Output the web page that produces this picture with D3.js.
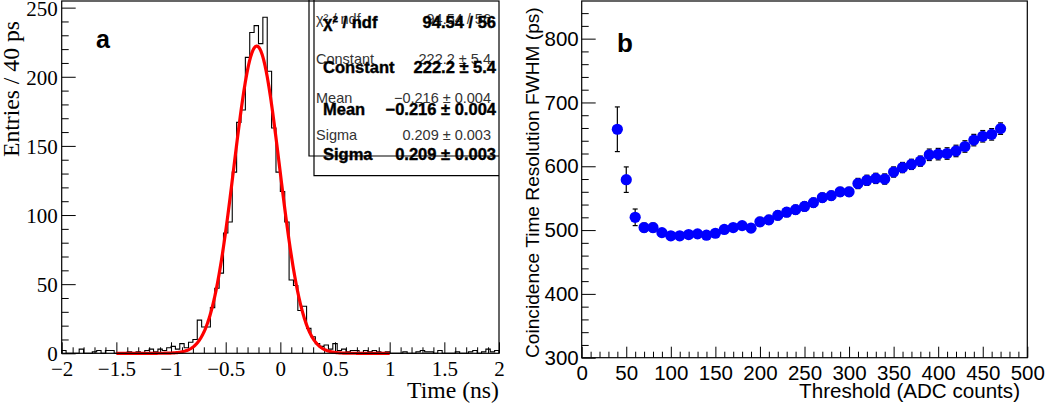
<!DOCTYPE html>
<html><head><meta charset="utf-8">
<script src="https://cdn.jsdelivr.net/npm/d3@7"></script>
<style>
html,body{margin:0;padding:0;background:#fff;}
svg{display:block;}
</style></head>
<body>
<svg id="c" width="1050" height="404"></svg>
<script>
// ---------------- DATA ----------------
// Panel a: histogram, 100 bins of 40 ps from -2 to 2 ns
const histStart = -2;
const histBinWidth = 0.04;
const histCounts = [
  2,0,0,0,3,0,0,1,2,0,
  2,2,0,0,0,1,0,1,0,2,
  3,1,3,2,4,5,3,7,4,8,
  10,24,19,19,33,47,58,87,95,131,
  167,176,214,232,237,224,243,204,163,131,
  117,95,53,49,31,34,18,12,7,5,
  6,3,7,2,3,1,2,2,0,2,
  1,2,1,0,1,0,0,0,1,0,
  0,1,2,1,1,0,2,0,0,0,
  1,0,0,1,2,0,1,3,1,2
];
const fitParams = {constant: 222.2, mean: -0.216, sigma: 0.209, from: -1.5, to: 1.0};
const xTicksA = [-2,-1.5,-1,-0.5,0,0.5,1,1.5,2];
const yTicksA = [0,50,100,150,200,250];
const statNames = ["χ² / ndf", "Constant", "Mean", "Sigma"];
const statValues = ["94.54 / 56", "222.2 ± 5.4", "−0.216 ± 0.004", "0.209 ± 0.003"];

// Panel b: coincidence time resolution vs threshold
const thresholds = [40,50,60,70,80,90,100,110,120,130,140,150,160,170,180,190,200,210,220,230,240,250,260,270,280,290,300,310,320,330,340,350,360,370,380,390,400,410,420,430,440,450,460,470];
const fwhm = [658,579,520,504,504,496,491,491,493,494,492,495,501,504,507,503,513,516,523,528,532,537,543,551,554,560,560,573,578,581,580,591,598,603,608,618,619,620,624,631,641,647,650,659];
const fwhmErr = [35,20,13,7,7,6,6,6,6,6,6,6,6,6,6,6,7,7,7,7,7,7,7,7,7,7,7,8,8,8,8,8,8,8,8,9,9,9,9,9,9,9,9,9];
const xTicksB = [0,50,100,150,200,250,300,350,400,450,500];
const yTicksB = [300,400,500,600,700,800];

// ---------------- DRAW ----------------
const svg = d3.select("#c");
const serif = "'Liberation Serif','Times New Roman',serif";
const sans = "'Liberation Sans',Arial,Helvetica,sans-serif";

function fitWidth(sel, target){
  const n = sel.node();
  const fs = parseFloat(sel.attr("font-size"));
  const len = n.getComputedTextLength();
  if(len>0) sel.attr("font-size", (fs*target/len).toFixed(2));
}
const minusFmt = d => (d<0 ? "−"+Math.abs(d) : String(d));

// ===== Panel a =====
const xA = d3.scaleLinear().domain([-2,2]).range([61.7,499]);
const yA = d3.scaleLinear().domain([0,254.8]).range([353.3,1]);
const gA = svg.append("g");

const minorXA = d3.range(-20,21).map(i=>i/10).filter(v=>!xTicksA.some(t=>Math.abs(t-v)<1e-9));
const minorYA = d3.range(0,251,10).filter(v=>!yTicksA.includes(v));
gA.append("g").attr("transform",`translate(0,${yA(0)})`)
  .call(d3.axisBottom(xA).tickValues(minorXA).tickSize(-6).tickFormat(""))
  .call(g=>g.select(".domain").remove());
gA.append("g").attr("transform",`translate(0,${yA(0)})`)
  .call(d3.axisBottom(xA).tickValues(xTicksA).tickSize(-11).tickPadding(6).tickFormat(minusFmt))
  .call(g=>g.select(".domain").remove())
  .call(g=>g.selectAll("text").attr("font-family",serif).attr("font-size",21).attr("fill","#000").attr("dy","0.95em").attr("y",3));
gA.append("g").attr("transform",`translate(${xA(-2)},0)`)
  .call(d3.axisLeft(yA).tickValues(minorYA).tickSize(-7).tickFormat(""))
  .call(g=>g.select(".domain").remove());
gA.append("g").attr("transform",`translate(${xA(-2)},0)`)
  .call(d3.axisLeft(yA).tickValues(yTicksA).tickSize(-14).tickPadding(4).tickFormat(d=>d))
  .call(g=>g.select(".domain").remove())
  .call(g=>g.selectAll("text").attr("font-family",serif).attr("font-size",21).attr("fill","#000").attr("dy","0.36em"));
gA.selectAll(".tick line").attr("stroke","#000").attr("stroke-width",1);

// histogram outline
const histPts = [{x:histStart,y:0}];
histCounts.forEach((c,i)=>histPts.push({x:histStart+i*histBinWidth,y:c}));
const histEnd = histStart+histCounts.length*histBinWidth;
histPts.push({x:histEnd,y:histCounts[histCounts.length-1]});
histPts.push({x:histEnd,y:0});
gA.append("path").datum(histPts)
  .attr("d",d3.line().x(d=>xA(d.x)).y(d=>yA(d.y)).curve(d3.curveStepAfter))
  .attr("fill","none").attr("stroke","#000").attr("stroke-width",1.1);

// fit curve
const fitPts = d3.range(fitParams.from, fitParams.to+1e-9, 0.005).map(t=>({
  x:t, y: fitParams.constant*Math.exp(-0.5*Math.pow((t-fitParams.mean)/fitParams.sigma,2))
}));
gA.append("path").datum(fitPts)
  .attr("d",d3.line().x(d=>xA(d.x)).y(d=>yA(d.y)))
  .attr("fill","none").attr("stroke","#ff0000").attr("stroke-width",3.2).attr("stroke-linejoin","round");

// frame
gA.append("rect").attr("x",xA(-2)).attr("y",yA(254.8)).attr("width",xA(2)-xA(-2)).attr("height",yA(0)-yA(254.8))
  .attr("fill","none").attr("stroke","#000").attr("stroke-width",1.2);

// stats boxes (two superimposed ROOT stat panels)
const sb = gA.append("g");
sb.append("path").attr("d","M309,0V156H499").attr("fill","none").attr("stroke","#000").attr("stroke-width",1.2);
sb.append("path").attr("d","M314,0V175.7H499").attr("fill","none").attr("stroke","#000").attr("stroke-width",1.2);
// layer 1 (regular)
const l1y = [24,64,103,140];
statNames.forEach((n,i)=>{
  sb.append("text").attr("x",316).attr("y",l1y[i]).attr("font-family",sans).attr("font-size",14.5).attr("fill","#333").text(n);
  sb.append("text").attr("x",491).attr("y",l1y[i]).attr("text-anchor","end").attr("font-family",sans).attr("font-size",14.5).attr("fill","#333").text(statValues[i]);
});
// layer 2 (bold)
const l2y = [28,73,115,160];
statNames.forEach((n,i)=>{
  sb.append("text").attr("x",323).attr("y",l2y[i]).attr("font-family",sans).attr("font-weight","bold").attr("font-size",16.5)
    .attr("fill","#000").attr("stroke","#000").attr("stroke-width",0.4).text(n);
  sb.append("text").attr("x",496).attr("y",l2y[i]).attr("text-anchor","end").attr("font-family",sans).attr("font-weight","bold").attr("font-size",16.5)
    .attr("fill","#000").attr("stroke","#000").attr("stroke-width",0.4).text(statValues[i]);
});

// titles
const tA = gA.append("text").attr("x",499).attr("y",398).attr("text-anchor","end").attr("font-family",serif).attr("font-size",22).text("Time (ns)");
fitWidth(tA,92);
const yTA = gA.append("text").attr("transform","translate(18.5,157) rotate(-90)").attr("font-family",serif).attr("font-size",22).text("Entries / 40 ps");
fitWidth(yTA,136);
gA.append("text").attr("x",96).attr("y",48).attr("font-family",sans).attr("font-weight","bold").attr("font-size",25).text("a");

// ===== Panel b =====
const xB = d3.scaleLinear().domain([0,500]).range([581.7,1027.3]);
const yB = d3.scaleLinear().domain([300,859]).range([357.7,1]);
const gB = svg.append("g");
const minorXB = d3.range(0,501,10).filter(v=>!xTicksB.includes(v));
const minorYB = d3.range(300,860,20).filter(v=>!yTicksB.includes(v));
gB.append("g").attr("transform",`translate(0,${yB(300)})`)
  .call(d3.axisBottom(xB).tickValues(minorXB).tickSize(-6).tickFormat(""))
  .call(g=>g.select(".domain").remove());
gB.append("g").attr("transform",`translate(0,${yB(300)})`)
  .call(d3.axisBottom(xB).tickValues(xTicksB).tickSize(-11).tickPadding(4).tickFormat(d=>d))
  .call(g=>g.select(".domain").remove())
  .call(g=>g.selectAll("text").attr("font-family",sans).attr("font-size",20.5).attr("fill","#000").attr("dy","0.95em").attr("y",3));
gB.append("g").attr("transform",`translate(${xB(0)},0)`)
  .call(d3.axisLeft(yB).tickValues(minorYB).tickSize(-7).tickFormat(""))
  .call(g=>g.select(".domain").remove());
gB.append("g").attr("transform",`translate(${xB(0)},0)`)
  .call(d3.axisLeft(yB).tickValues(yTicksB).tickSize(-14).tickPadding(3).tickFormat(d=>d))
  .call(g=>g.select(".domain").remove())
  .call(g=>g.selectAll("text").attr("font-family",sans).attr("font-size",20.5).attr("fill","#000"));
gB.selectAll(".tick line").attr("stroke","#000").attr("stroke-width",1);

// error bars
const pts = thresholds.map((t,i)=>({x:t,y:fwhm[i],e:fwhmErr[i]}));
const eb = gB.append("g").attr("stroke","#000").attr("stroke-width",1.2);
eb.selectAll("line.v").data(pts).join("line").attr("class","v")
  .attr("x1",d=>xB(d.x)).attr("x2",d=>xB(d.x)).attr("y1",d=>yB(d.y-d.e)).attr("y2",d=>yB(d.y+d.e));
eb.selectAll("line.t").data(pts).join("line").attr("class","t")
  .attr("x1",d=>xB(d.x)-2.5).attr("x2",d=>xB(d.x)+2.5).attr("y1",d=>yB(d.y+d.e)).attr("y2",d=>yB(d.y+d.e));
eb.selectAll("line.b").data(pts).join("line").attr("class","b")
  .attr("x1",d=>xB(d.x)-2.5).attr("x2",d=>xB(d.x)+2.5).attr("y1",d=>yB(d.y-d.e)).attr("y2",d=>yB(d.y-d.e));
gB.append("g").selectAll("circle").data(pts).join("circle")
  .attr("cx",d=>xB(d.x)).attr("cy",d=>yB(d.y)).attr("r",5.6).attr("fill","#0000ff");

gB.append("rect").attr("x",xB(0)).attr("y",yB(859)).attr("width",xB(500)-xB(0)).attr("height",yB(300)-yB(859))
  .attr("fill","none").attr("stroke","#000").attr("stroke-width",1.2);

const tB = gB.append("text").attr("x",1020).attr("y",398).attr("text-anchor","end").attr("font-family",sans).attr("font-size",20).text("Threshold (ADC counts)");
fitWidth(tB,221);
const yTB = gB.append("text").attr("transform","translate(539,358) rotate(-90)").attr("font-family",sans).attr("font-size",18.5).text("Coincidence Time Resolution FWHM (ps)");
fitWidth(yTB,351);
gB.append("text").attr("x",617).attr("y",52).attr("font-family",sans).attr("font-weight","bold").attr("font-size",26).text("b");
</script>
</body></html>
